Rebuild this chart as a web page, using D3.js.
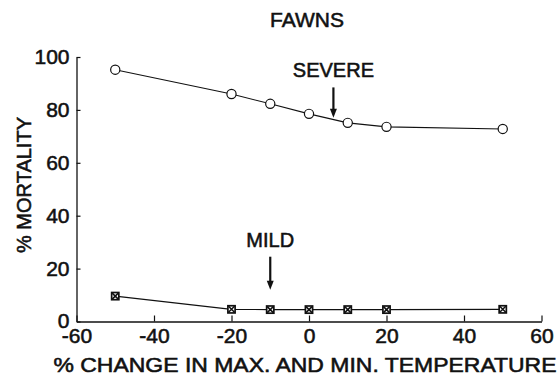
<!DOCTYPE html>
<html><head><meta charset="utf-8">
<script src="https://cdn.jsdelivr.net/npm/d3@7"></script>
<style>
html,body{margin:0;padding:0;background:#fff;}
text{font-family:"Liberation Sans",Arial,Helvetica,sans-serif;fill:#111;}
</style></head>
<body>
<svg id="c" width="559" height="381"></svg>
<script>
const temps = [-50, -20, -10, 0, 10, 20, 50];
const severe = [95.2, 86.0, 82.3, 78.5, 75.1, 73.6, 72.8];
const mild = [9.6, 4.6, 4.5, 4.5, 4.5, 4.5, 4.6];
const xTicks = [-60, -40, -20, 0, 20, 40, 60];
const yTicks = [0, 20, 40, 60, 80, 100];
const title = "FAWNS";
const xLabel = "% CHANGE IN MAX. AND MIN. TEMPERATURE";
const yLabel = "% MORTALITY";
const severeLabel = {text: "SEVERE", x: 6.3, yFrom: 88.5, yTo: 77};
const mildLabel = {text: "MILD", x: -10, yFrom: 24.5, yTo: 12};

const svg = d3.select("#c");
const x = d3.scaleLinear().domain([-60, 60]).range([76.5, 541.5]);
const y = d3.scaleLinear().domain([0, 100]).range([321.5, 57]);
const ink = "#111";
const fs = 20, fsTick = 21;
const sw = 0.55;

// axes
const gx = svg.append("g").attr("transform", `translate(0,${y(0)})`)
  .call(d3.axisBottom(x).tickValues(xTicks).tickSizeInner(-6).tickSizeOuter(0).tickPadding(7).tickFormat(d3.format("d")));
const gy = svg.append("g").attr("transform", `translate(${x(-60)},0)`)
  .call(d3.axisLeft(y).tickValues(yTicks).tickSizeInner(-4).tickSizeOuter(0).tickPadding(7).tickFormat(d3.format("d")));
[gx, gy].forEach(g => {
  g.select(".domain").attr("stroke", ink).attr("stroke-width", 1.3);
  g.selectAll(".tick line").attr("stroke", ink).attr("stroke-width", 1.2);
  g.selectAll(".tick text").attr("font-size", fsTick).attr("fill", ink)
    .attr("font-family", '"Liberation Sans",Arial,sans-serif')
    .attr("stroke", ink).attr("stroke-width", sw);
});
gx.selectAll(".tick text").text(d => d < 0 ? "-" + Math.abs(d) : d);
gy.selectAll(".tick text").filter(d => d === 0).attr("dy", "0.3em");

// lines
const line = d3.line().x((d, i) => x(temps[i])).y(d => y(d));
svg.append("path").datum(severe).attr("d", line).attr("fill", "none").attr("stroke", ink).attr("stroke-width", 1.1);
svg.append("path").datum(mild).attr("d", line).attr("fill", "none").attr("stroke", ink).attr("stroke-width", 1.1);

// markers
svg.selectAll("circle.sev").data(severe).join("circle").attr("class", "sev")
  .attr("cx", (d, i) => x(temps[i])).attr("cy", d => y(d)).attr("r", 4.6)
  .attr("fill", "#fff").attr("stroke", ink).attr("stroke-width", 1.2);
const m = svg.selectAll("g.mild").data(mild).join("g").attr("class", "mild")
  .attr("transform", (d, i) => `translate(${x(temps[i])},${y(d)})`);
m.append("rect").attr("x", -3.6).attr("y", -3.6).attr("width", 7.2).attr("height", 7.2)
  .attr("fill", "#fff").attr("stroke", ink).attr("stroke-width", 1.7);
m.append("path").attr("d", "M-3,-3L3,3M3,-3L-3,3").attr("stroke", ink).attr("stroke-width", 1.5);

// annotations
function annot(a) {
  const ax = x(a.x);
  svg.append("text").attr("x", ax).attr("y", y(a.yFrom) - 10).attr("text-anchor", "middle")
    .attr("font-size", fs).attr("stroke", ink).attr("stroke-width", sw).text(a.text);
  svg.append("line").attr("x1", ax).attr("x2", ax).attr("y1", y(a.yFrom)).attr("y2", y(a.yTo) - 6)
    .attr("stroke", ink).attr("stroke-width", 2.2);
  const ty = y(a.yTo);
  svg.append("path").attr("d", `M${ax - 3.5},${ty - 9}L${ax + 3.5},${ty - 9}L${ax},${ty}Z`).attr("fill", ink);
}
annot(severeLabel);
annot(mildLabel);

// titles
svg.append("text").attr("x", 307).attr("y", 27).attr("text-anchor", "middle")
  .attr("font-size", 21).attr("stroke", ink).attr("stroke-width", sw).text(title);
svg.append("text").attr("x", 305).attr("y", 372).attr("text-anchor", "middle")
  .attr("font-size", fs).attr("stroke", ink).attr("stroke-width", sw)
  .attr("textLength", 503).attr("lengthAdjust", "spacingAndGlyphs").text(xLabel);
svg.append("text").attr("transform", "translate(31,185) rotate(-90)").attr("text-anchor", "middle")
  .attr("font-size", fs).attr("stroke", ink).attr("stroke-width", sw).text(yLabel);
</script>
</body></html>
